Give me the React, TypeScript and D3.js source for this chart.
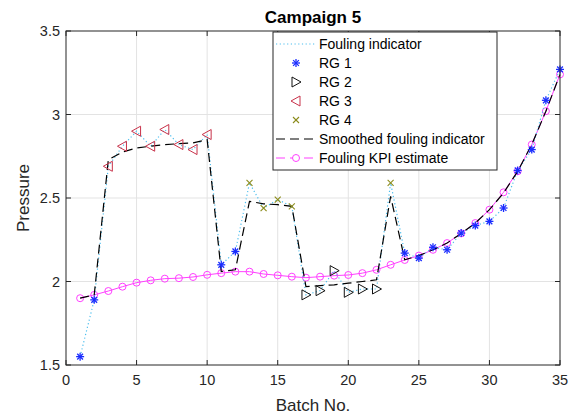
import React from 'react';
import * as d3 from 'd3';

const batches = d3.range(1, 36);

// fouling indicator, one value per batch
const fouling = [1.55, 1.89, 2.69, 2.81, 2.90, 2.81, 2.91, 2.82, 2.79, 2.88,
  2.10, 2.18, 2.59, 2.44, 2.49, 2.45, 1.92, 1.945, 2.065, 1.935,
  1.955, 1.955, 2.59, 2.17, 2.14, 2.205, 2.19, 2.29, 2.335, 2.36,
  2.44, 2.665, 2.79, 3.085, 3.27];

// which RG each batch belongs to
const group = [1, 1, 3, 3, 3, 3, 3, 3, 3, 3,
  1, 1, 4, 4, 4, 4, 2, 2, 2, 2,
  2, 2, 4, 1, 1, 1, 1, 1, 1, 1,
  1, 1, 1, 1, 1];

const smoothed = [1.90, 1.92, 2.73, 2.775, 2.80, 2.81, 2.82, 2.825, 2.83, 2.85,
  2.06, 2.07, 2.48, 2.465, 2.46, 2.45, 1.97, 1.975, 1.98, 1.99,
  2.0, 2.01, 2.51, 2.13, 2.155, 2.19, 2.23, 2.288, 2.35, 2.43,
  2.53, 2.66, 2.82, 3.02, 3.24];

const kpi = [1.90, 1.92, 1.943, 1.969, 1.993, 2.007, 2.017, 2.02, 2.027, 2.04,
  2.05, 2.059, 2.059, 2.045, 2.037, 2.029, 2.023, 2.029, 2.035, 2.039,
  2.05, 2.07, 2.10, 2.129, 2.155, 2.19, 2.23, 2.288, 2.35, 2.43,
  2.534, 2.66, 2.82, 3.02, 3.24];

const xTicks = [0, 5, 10, 15, 20, 25, 30, 35];
const yTicks = [1.5, 2, 2.5, 3, 3.5];

const FONT = '"Liberation Sans", Arial, sans-serif';
const C_FOUL = '#4dbeee';
const C_RG1 = '#1a2cff';
const C_RG2 = '#111111';
const C_RG3 = '#c8324a';
const C_RG4 = '#8c8c1c';
const C_KPI = '#ff40ff';

function Marker({ g, x, y }: { g: number; x: number; y: number }) {
  if (g === 1) {
    const r = 4;
    const d = r * 0.72;
    return (
      <g stroke={C_RG1} strokeWidth={1.3}>
        <line x1={x - r} y1={y} x2={x + r} y2={y} />
        <line x1={x} y1={y - r} x2={x} y2={y + r} />
        <line x1={x - d} y1={y - d} x2={x + d} y2={y + d} />
        <line x1={x - d} y1={y + d} x2={x + d} y2={y - d} />
      </g>
    );
  }
  if (g === 2) {
    return <path d={`M${x - 4},${y - 5}L${x + 5},${y}L${x - 4},${y + 5}Z`} fill="none" stroke={C_RG2} strokeWidth={1} />;
  }
  if (g === 3) {
    return <path d={`M${x + 4},${y - 5}L${x - 5},${y}L${x + 4},${y + 5}Z`} fill="none" stroke={C_RG3} strokeWidth={1} />;
  }
  const r = 3;
  return (
    <g stroke={C_RG4} strokeWidth={1.1}>
      <line x1={x - r} y1={y - r} x2={x + r} y2={y + r} />
      <line x1={x - r} y1={y + r} x2={x + r} y2={y - r} />
    </g>
  );
}

export default function App() {
  const W = 573, H = 416;
  const left = 66, right = 560, top = 31, bottom = 365;
  const x = d3.scaleLinear().domain([0, 35]).range([left, right]);
  const y = d3.scaleLinear().domain([1.5, 3.5]).range([bottom, top]);
  const line = d3.line<number>().x((_, i) => x(batches[i])).y(v => y(v));

  const lx = 273, ly = 32, lw = 224, lh = 138;
  const rowY = (i: number) => ly + 12 + i * 19;
  const legend = [
    'Fouling indicator', 'RG 1', 'RG 2', 'RG 3', 'RG 4',
    'Smoothed fouling indicator', 'Fouling KPI estimate',
  ];

  return (
    <svg width={W} height={H} style={{ position: 'absolute', left: 0, top: 0, background: '#fff' }}
      fontFamily={FONT}>
      <rect x={0} y={0} width={W} height={H} fill="#fff" />
      {/* grid */}
      {xTicks.slice(1, -1).map(t => (
        <line key={'gx' + t} x1={x(t)} x2={x(t)} y1={top} y2={bottom} stroke="#e3e3e3" />
      ))}
      {yTicks.slice(1, -1).map(t => (
        <line key={'gy' + t} x1={left} x2={right} y1={y(t)} y2={y(t)} stroke="#e3e3e3" />
      ))}
      {/* ticks */}
      {xTicks.map(t => (
        <g key={'tx' + t}>
          <line x1={x(t)} x2={x(t)} y1={bottom} y2={bottom - 5} stroke="#262626" />
          <line x1={x(t)} x2={x(t)} y1={top} y2={top + 5} stroke="#262626" />
          <text x={x(t)} y={bottom + 20} textAnchor="middle" fontSize={14.5} fill="#262626">{t}</text>
        </g>
      ))}
      {yTicks.map(t => (
        <g key={'ty' + t}>
          <line x1={left} x2={left + 5} y1={y(t)} y2={y(t)} stroke="#262626" />
          <line x1={right} x2={right - 5} y1={y(t)} y2={y(t)} stroke="#262626" />
          <text x={left - 6} y={y(t) + 5} textAnchor="end" fontSize={14.5} fill="#262626">{t}</text>
        </g>
      ))}
      {/* series */}
      <path d={line(kpi) || ''} fill="none" stroke={C_KPI} strokeWidth={1} />
      {kpi.map((v, i) => (
        <circle key={'k' + i} cx={x(batches[i])} cy={y(v)} r={3.5} fill="none" stroke={C_KPI} strokeWidth={1} />
      ))}
      <path d={line(fouling) || ''} fill="none" stroke={C_FOUL} strokeWidth={1.2} strokeDasharray="1.2,2.5" />
      <path d={line(smoothed) || ''} fill="none" stroke="#000" strokeWidth={1.2} strokeDasharray="9,5" />
      {fouling.map((v, i) => (
        <Marker key={'m' + i} g={group[i]} x={x(batches[i])} y={y(v)} />
      ))}
      {/* frame */}
      <rect x={left} y={top} width={right - left} height={bottom - top} fill="none" stroke="#262626" strokeWidth={1} />
      {/* legend */}
      <rect x={lx} y={ly} width={lw} height={lh} fill="#fff" stroke="#262626" strokeWidth={1} />
      {legend.map((label, i) => {
        const cy = rowY(i);
        const sx1 = lx + 3, sx2 = lx + 42, mx = lx + 23;
        let sample: React.ReactNode = null;
        if (i === 0) sample = <line x1={sx1} x2={sx2} y1={cy} y2={cy} stroke={C_FOUL} strokeWidth={1.2} strokeDasharray="1.2,2.5" />;
        else if (i >= 1 && i <= 4) sample = <Marker g={i} x={mx} y={cy} />;
        else if (i === 5) sample = <line x1={sx1} x2={sx2} y1={cy} y2={cy} stroke="#000" strokeWidth={1.2} strokeDasharray="9,5" />;
        else sample = (
          <g>
            <line x1={sx1} x2={sx2} y1={cy} y2={cy} stroke={C_KPI} strokeWidth={1} strokeDasharray="9,5" />
            <circle cx={mx} cy={cy} r={3.5} fill="#fff" stroke={C_KPI} />
          </g>
        );
        return (
          <g key={'l' + i}>
            {sample}
            <text x={lx + 46} y={cy + 5} fontSize={14} fill="#000">{label}</text>
          </g>
        );
      })}
      {/* labels */}
      <text x={(left + right) / 2} y={23} textAnchor="middle" fontSize={17} fontWeight="bold" fill="#000">Campaign 5</text>
      <text x={(left + right) / 2} y={411} textAnchor="middle" fontSize={17} fill="#262626">Batch No.</text>
      <text transform={`translate(29,${(top + bottom) / 2}) rotate(-90)`} textAnchor="middle" fontSize={17} fill="#262626">Pressure</text>
    </svg>
  );
}
